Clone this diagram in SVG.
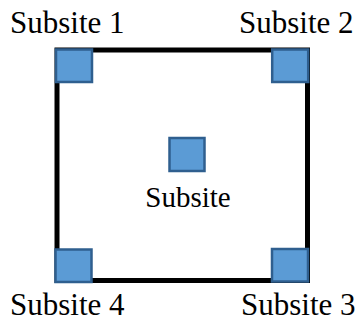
<svg xmlns="http://www.w3.org/2000/svg" width="359" height="322" viewBox="0 0 359 322">
<style>
.lbl{font-family:"Liberation Serif","Times New Roman",serif;font-size:31px;fill:#000}
.mid{font-size:29px}
.site{fill:#5B9BD5;stroke:#2F5F8F;stroke-width:2.5}
.area{fill:#fff;stroke:#000;stroke-width:5}
</style>
<rect width="359" height="322" fill="#fff"/>
<g id="area"><rect class="area" x="57" y="50" width="250.5" height="230.5"/></g>
<g id="connectors"></g>
<g id="subsite1"><rect class="site" x="56" y="49.5" width="36" height="32.5"/><text class="lbl" x="10" y="33">Subsite 1</text></g>
<g id="subsite2"><rect class="site" x="272.2" y="49.5" width="36" height="32.5"/><text class="lbl" x="239" y="33">Subsite 2</text></g>
<g id="subsite3"><rect class="site" x="272" y="249" width="36" height="32.5"/><text class="lbl" x="241" y="315">Subsite 3</text></g>
<g id="subsite4"><rect class="site" x="55.5" y="249.5" width="36" height="32.5"/><text class="lbl" x="10" y="315">Subsite 4</text></g>
<g id="subsite"><rect class="site" x="169.5" y="138" width="35" height="33"/><text class="lbl mid" x="188" y="207" text-anchor="middle">Subsite</text></g>
</svg>
